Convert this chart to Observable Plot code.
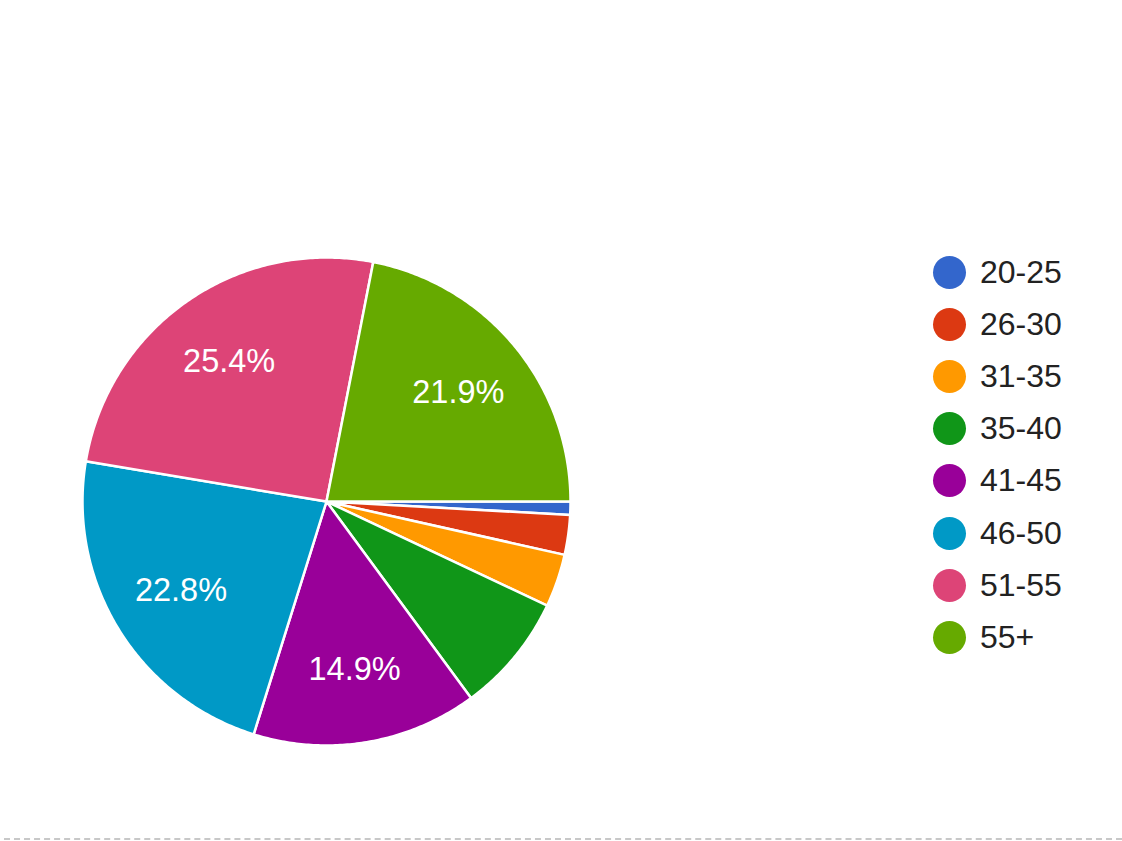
<!DOCTYPE html>
<html>
<head>
<meta charset="utf-8">
<script src="https://cdn.jsdelivr.net/npm/d3@7"></script>
<script src="https://cdn.jsdelivr.net/npm/@observablehq/plot@0.6"></script>
<style>
  html, body { margin: 0; padding: 0; background: #fff; }
  #wrap { position: relative; width: 1122px; height: 841px; overflow: hidden; font-family: "Liberation Sans", Arial, sans-serif; }
  #chart { position: absolute; left: 0; top: 0; }
  #legend { position: absolute; left: 933px; top: 246px; }
  .row { display: flex; align-items: center; height: 52.2px; }
  .sw { width: 33px; height: 33px; border-radius: 50%; margin-right: 14px; }
  .lab { font-size: 32px; color: #222; }
  #dash { position: absolute; left: 4px; right: 0; top: 838px; height: 0; border-top: 2px dashed #c8c8c8; }
</style>
</head>
<body>
<div id="wrap">
  <div id="chart"></div>
  <div id="legend"></div>
  <div id="dash"></div>
</div>
<script>
const categories = ["20-25", "26-30", "31-35", "35-40", "41-45", "46-50", "51-55", "55+"];
const counts = [1, 3, 4, 9, 17, 26, 29, 25];
const colors = ["#3366cc", "#dc3912", "#ff9900", "#109618", "#990099", "#0099c6", "#dd4477", "#66aa00"];

const total = d3.sum(counts);
const arcs = d3.pie().sort(null).value(d => d)(counts);

// Build slice outlines (unit circle, clockwise from east)
const pts = [];
const labels = [];
arcs.forEach((a, i) => {
  const cat = categories[i];
  const n = Math.max(2, Math.ceil((a.endAngle - a.startAngle) / 0.01));
  pts.push({cat, x: 0, y: 0});
  for (let k = 0; k <= n; k++) {
    const t = a.startAngle + (a.endAngle - a.startAngle) * k / n;
    pts.push({cat, x: Math.cos(t), y: -Math.sin(t)});
  }
  pts.push({cat, x: 0, y: 0});
  const pct = counts[i] / total * 100;
  if (pct >= 10) {
    const m = (a.startAngle + a.endAngle) / 2;
    const r = 0.7;
    labels.push({cat, x: r * Math.cos(m), y: -r * Math.sin(m), text: pct.toFixed(1) + "%"});
  }
});

const plot = Plot.plot({
  width: 1122,
  height: 841,
  margin: 0,
  x: {domain: [-1, 1], range: [82, 570], axis: null},
  y: {domain: [-1, 1], range: [745, 257], axis: null},
  color: {domain: categories, range: colors},
  style: {background: "transparent"},
  marks: [
    Plot.line(pts, {x: "x", y: "y", z: "cat", fill: "cat", stroke: "white", strokeWidth: 2.5, strokeLinejoin: "round"}),
    Plot.text(labels, {x: "x", y: "y", text: "text", fill: "white", fontSize: 32.5, fontFamily: "Liberation Sans, Arial, sans-serif"})
  ]
});
document.getElementById("chart").appendChild(plot);

const legend = document.getElementById("legend");
categories.forEach((c, i) => {
  const row = document.createElement("div");
  row.className = "row";
  const sw = document.createElement("div");
  sw.className = "sw";
  sw.style.background = colors[i];
  const lab = document.createElement("span");
  lab.className = "lab";
  lab.textContent = c;
  row.appendChild(sw);
  row.appendChild(lab);
  legend.appendChild(row);
});
</script>
</body>
</html>
